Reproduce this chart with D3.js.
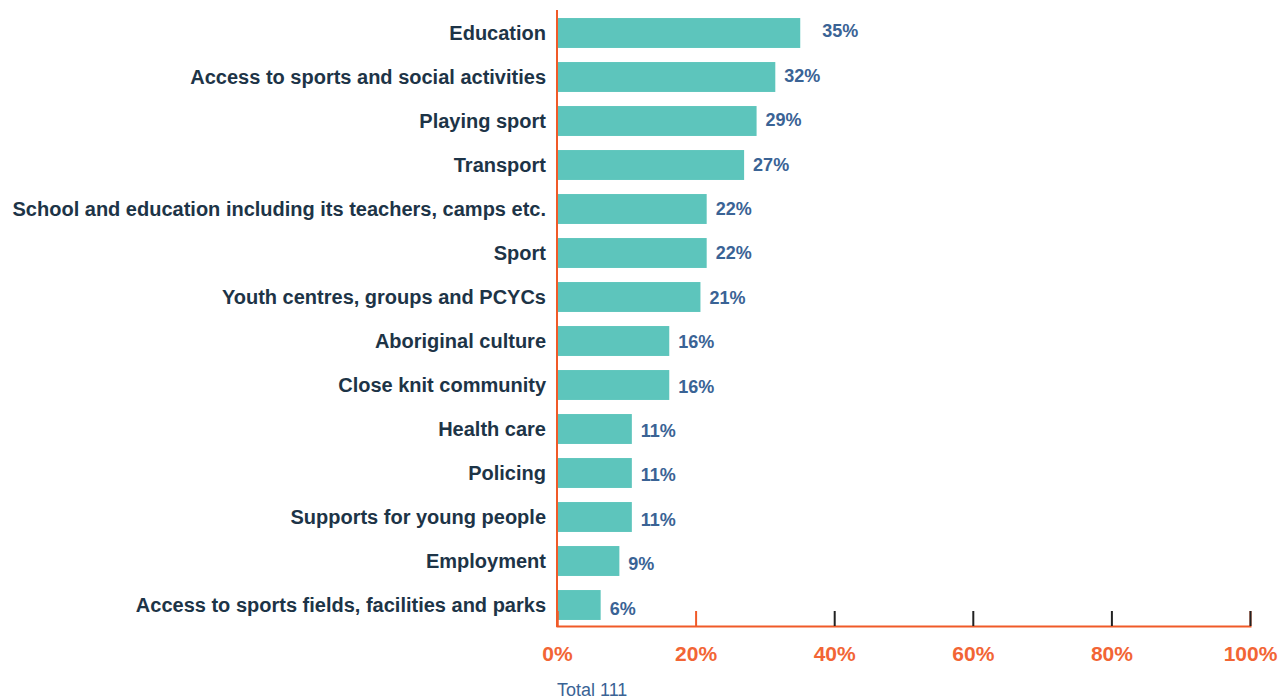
<!DOCTYPE html>
<html><head><meta charset="utf-8">
<script src="https://cdn.jsdelivr.net/npm/d3@7"></script>
<style>body{margin:0;background:#fff;}svg{display:block;font-family:"Liberation Sans",Arial,sans-serif;}</style>
</head><body><svg id="c" width="1280" height="700"></svg>
<script>
const categories = ["Education","Access to sports and social activities","Playing sport","Transport","School and education including its teachers, camps etc.","Sport","Youth centres, groups and PCYCs","Aboriginal culture","Close knit community","Health care","Policing","Supports for young people","Employment","Access to sports fields, facilities and parks"];
const values = [35.1,31.5,28.8,27.0,21.6,21.6,20.7,16.2,16.2,10.8,10.8,10.8,9.0,6.3];
const valueLabels = ["35%","32%","29%","27%","22%","22%","21%","16%","16%","11%","11%","11%","9%","6%"];
const tickValues = [0,20,40,60,80,100];
const totalLabel = "Total 111";

const svg = d3.select("#c");
const x = d3.scaleLinear().domain([0,100]).range([557,1250]);
const y = d3.scaleBand().domain(categories).range([11,627]).paddingInner(0.32).paddingOuter(0.16);
const orange = "#f05a28";

svg.append("g").selectAll("rect").data(categories).join("rect")
  .attr("x", x(0)).attr("y", d=>y(d)).attr("height", y.bandwidth())
  .attr("width", (d,i)=>x(values[i])-x(0)).attr("fill","#5dc5bc");

svg.append("g").selectAll("text").data(categories).join("text")
  .attr("x", 546).attr("y", d=>y(d)+y.bandwidth()/2).attr("dy","0.35em")
  .attr("text-anchor","end").attr("font-weight","bold").attr("font-size",20)
  .attr("fill","#1d3447").text(d=>d);

svg.append("g").selectAll("text").data(categories).join("text")
  .attr("x", (d,i)=>x(values[i]) + (i===0?22:9)).attr("y", (d,i)=>y(d)+y.bandwidth()/2 - 2 + i*0.4).attr("dy","0.35em")
  .attr("font-weight","bold").attr("font-size",18)
  .attr("fill","#3a6395").text((d,i)=>valueLabels[i]);

// axes
const ax = svg.append("g").attr("transform","translate(0,626)")
  .call(d3.axisBottom(x).tickValues(tickValues).tickSize(-15).tickFormat(d=>d+"%").tickPadding(20));
ax.select(".domain").attr("stroke",orange).attr("stroke-width",2);
ax.selectAll(".tick line").attr("stroke",(d)=>d<=20?orange:"#222").attr("stroke-width",2);
ax.selectAll(".tick text").attr("fill","#f26535").attr("font-size",21).attr("font-weight","bold")
  .attr("font-family","Liberation Sans, Arial, sans-serif");

svg.append("line").attr("x1",x(0)).attr("x2",x(0)).attr("y1",10).attr("y2",627)
  .attr("stroke",orange).attr("stroke-width",2);

svg.append("text").attr("x",557).attr("y",696).attr("font-size",18).attr("fill","#3a6395").text(totalLabel);
</script></body></html>
